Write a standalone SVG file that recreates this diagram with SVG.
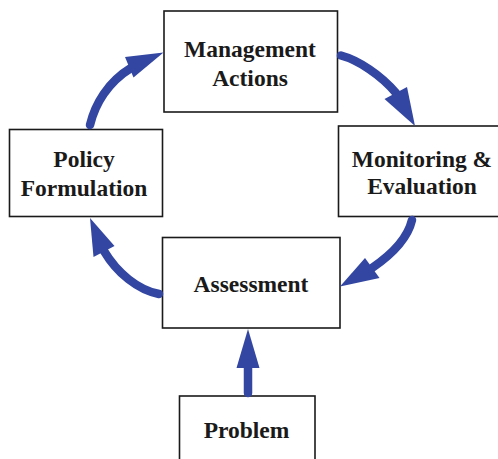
<svg xmlns="http://www.w3.org/2000/svg" width="498" height="459" viewBox="0 0 498 459">
<style>
.box{fill:#fff;stroke:#1a1a1a;stroke-width:1.6}
.lbl{font-family:"Liberation Serif","Times New Roman",serif;font-weight:bold;font-size:23.5px;fill:#1a1a1a;text-anchor:middle}
.shaft{fill:none;stroke:#3246a2;stroke-width:8.5;stroke-linecap:round}
.head{fill:#3246a2}
</style>
<rect width="498" height="459" fill="#fff"/>
<g id="management">
<rect class="box" x="164" y="11" width="173.5" height="101"/>
<text class="lbl" x="250" y="57">Management</text>
<text class="lbl" x="250" y="86">Actions</text>
</g>
<g id="monitoring">
<rect class="box" x="338.5" y="126" width="168" height="90.5"/>
<text class="lbl" x="422" y="166.5">Monitoring &amp;</text>
<text class="lbl" x="422" y="194">Evaluation</text>
</g>
<g id="policy">
<rect class="box" x="9.5" y="129.5" width="153" height="87"/>
<text class="lbl" x="84" y="166.5">Policy</text>
<text class="lbl" x="84" y="196">Formulation</text>
</g>
<g id="assessment">
<rect class="box" x="162.5" y="237.5" width="177.5" height="90.5"/>
<text class="lbl" x="251" y="291.5">Assessment</text>
</g>
<g id="problem">
<rect class="box" x="179.5" y="396" width="135.5" height="70"/>
<text class="lbl" x="246.5" y="438">Problem</text>
</g>
<g id="connectors">
<g id="policy-to-management">
<path class="shaft" d="M90,125 C95,104 108,82 131,68"/>
<polygon class="head" points="125,57 163.5,52.5 133.5,77.5"/>
</g>
<g id="management-to-monitoring">
<path class="shaft" d="M341,55.5 C358,60 381,75 396,93"/>
<polygon class="head" points="384.5,99 407,87 415,126"/>
</g>
<g id="monitoring-to-assessment">
<path class="shaft" d="M412,220 C408,237 394,253 372,268"/>
<polygon class="head" points="365,258 379.5,278 340,286.5"/>
</g>
<g id="assessment-to-policy">
<path class="shaft" d="M159,294 C138,290 117,273 104,251"/>
<polygon class="head" points="114.5,246 90,218 93.5,257"/>
</g>
<g id="problem-to-assessment">
<path class="shaft" d="M248,393 L248,366"/>
<polygon class="head" points="236.5,368 248,329 259.5,368"/>
</g>
</g>
</svg>
